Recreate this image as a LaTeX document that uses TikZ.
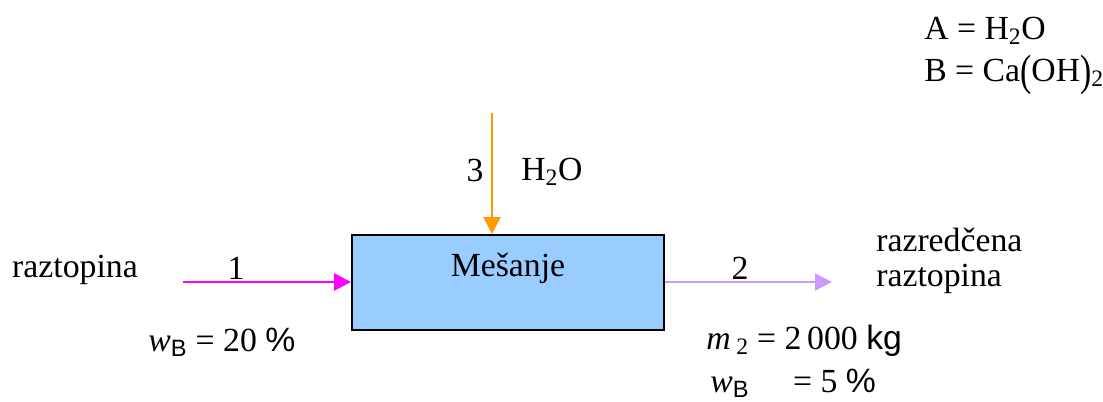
\documentclass[tikz,border=0pt]{standalone}
\usepackage{fontspec}
\setmainfont{Liberation Serif}
\newfontfamily\arialfont{Liberation Sans}
\usetikzlibrary{positioning,arrows.meta}
\definecolor{boxblue}{RGB}{153,204,255}
\definecolor{strmag}{RGB}{255,0,255}
\definecolor{strlila}{RGB}{204,153,255}
\definecolor{strorange}{RGB}{255,153,0}
\newcommand{\tallpar}[1]{\raisebox{-0.12em}{\scalebox{1}[1.3]{#1}}}

\begin{document}
\begin{tikzpicture}[
    x=0.025cm, y=-0.025cm,
    unit/.style={rectangle, draw, line width=1.3pt, fill=boxblue, minimum width=7.8cm, minimum height=2.375cm, inner sep=0pt},
    txt/.style={font=\fontsize{24}{25}\selectfont, inner sep=0pt},
    stream/.style={-{Triangle[length=12pt, width=12pt]}, line width=1.8pt}
  ]
    \useasboundingbox (0,0) rectangle (1103,401);
    % process unit
    \node[unit] (mix) at (508,282.5) {};
    \node[txt] (mixlbl) at (508,268) {Mešanje};
    % stream end points
    \coordinate (s1) at (183,282);
    \coordinate (s2) at (832,282);
    \coordinate (s3) at (492,113);
    \draw[stream, strmag] (s1) -- (mix.west |- s1);
    \draw[stream, strlila] (mix.east |- s2) -- (s2);
    \draw[stream, strorange] (s3) -- (s3 |- mix.north);
    % stream labels
    \node[txt] (n1) at (236,268) {1};
    \node[txt] (n2) at (740,268) {2};
    \node[txt] (n3) at (475,170) {3};
    \node[txt, anchor=west] (h2o) at (521,172) {H\textsubscript{2}O};
    \node[txt] (feed) at (75,270) {raztopina};
    \node[txt, anchor=west, align=left] (prod) at (876,261) {razredčena\\raztopina};
    % data
    \node[txt, anchor=west] (w1) at (148,342) {\textit{w}\textsubscript{\arialfont B} = 20 {\arialfont\%}};
    \node[txt, anchor=west] (m2) at (706,341) {\textit{m}\,\textsubscript{2} = 2\,000 {\arialfont kg}};
    \node[txt, anchor=west] (w2) at (710,383) {\textit{w}\textsubscript{\arialfont B}\hspace{1.3em}= 5 {\arialfont\%}};
    % components
    \node[txt, anchor=west] (ca) at (924,31) {A = H\textsubscript{2}O};
    \node[txt, anchor=west] (cb) at (924,75) {B = Ca\tallpar{(}OH\tallpar{)}\textsubscript{2}};
\end{tikzpicture}
\end{document}
